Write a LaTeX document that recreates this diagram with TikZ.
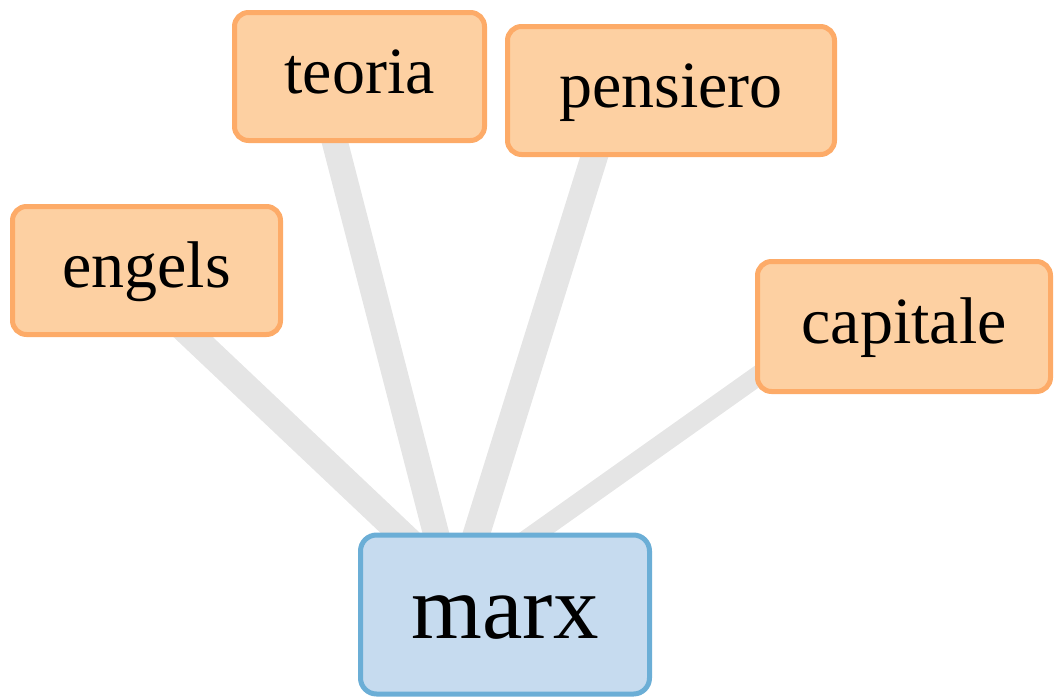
\documentclass[tikz,border=0pt]{standalone}
\usepackage{fontspec}
\setmainfont{Liberation Serif}
\definecolor{obord}{HTML}{FDAB68}
\definecolor{ofill}{HTML}{FDD0A2}
\definecolor{bbord}{HTML}{6BAED6}
\definecolor{bfill}{HTML}{C6DBEF}
\definecolor{edgegray}{HTML}{E5E5E5}
\tikzset{
  leaf/.style={draw=obord, fill=ofill, line width=5pt, rounded corners=14pt,
    inner sep=0pt, font=\fontsize{66}{70}\selectfont, text height=47pt, text depth=14pt},
  hub/.style={draw=bbord, fill=bfill, line width=5pt, rounded corners=16pt,
    inner sep=0pt, font=\fontsize{91}{95}\selectfont, text height=68pt, text depth=20pt},
  link/.style={draw=edgegray, line cap=butt}
}
\begin{document}
\begin{tikzpicture}[x=1pt,y=-1pt]
\useasboundingbox (0,0) rectangle (1055,697);
% connector end points
\coordinate (eA) at (154,300);
\coordinate (eB) at (450,580);
\coordinate (tA) at (324,100);
\coordinate (tB) at (448,580);
\coordinate (pA) at (612,100);
\coordinate (pB) at (462,580);
\coordinate (cA) at (800,346);
\coordinate (cB) at (470,580);
\draw[link, line width=27pt] (eA) -- (eB);
\draw[link, line width=26pt] (tA) -- (tB);
\draw[link, line width=27pt] (pA) -- (pB);
\draw[link, line width=20pt] (cA) -- (cB);
% nodes
\node[leaf, minimum width=268pt, minimum height=128pt] (engels) at (146.5,270.5) {engels};
\node[leaf, minimum width=250pt, minimum height=128pt] (teoria) at (359.5,76.5) {teoria};
\node[leaf, minimum width=327pt, minimum height=128pt] (pensiero) at (671,90.5) {pensiero};
\node[leaf, minimum width=293pt, minimum height=130pt] (capitale) at (904,326.5) {capitale};
\node[hub, minimum width=289pt, minimum height=159pt] (marx) at (505,614.5) {marx};
\end{tikzpicture}
\end{document}
